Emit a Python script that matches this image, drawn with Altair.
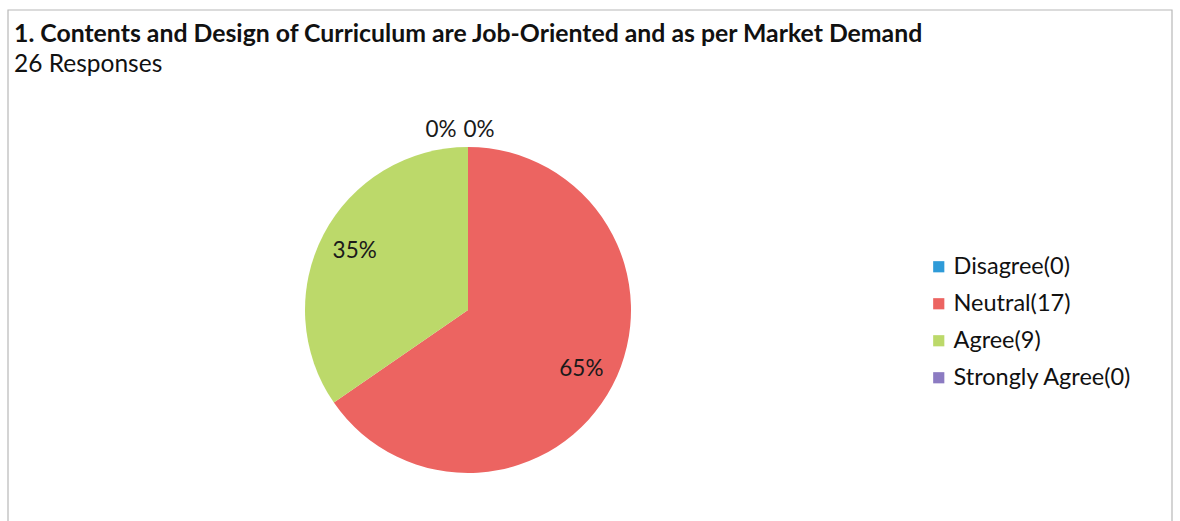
import altair as alt
import pandas as pd

# Survey responses for question 1
categories = ["Disagree", "Neutral", "Agree", "Strongly Agree"]
counts = [0, 17, 9, 0]
colors = ["#2f9bd8", "#ec6461", "#bcd96a", "#8c7bc2"]

title_text = "1. Contents and Design of Curriculum are Job-Oriented and as per Market Demand"
subtitle_text = "26 Responses"

FONT = "Lato"
W, H = 1164, 511

df = pd.DataFrame({
    "category": categories,
    "count": counts,
    "order": list(range(len(categories))),
})
df["legend"] = [f"{c}({n})" for c, n in zip(categories, counts)]
legend_order = list(df["legend"])

cx, cy, r = 460, 300, 163

base = alt.Chart(df).transform_joinaggregate(
    total="sum(count)"
).transform_calculate(
    pct="datum.count / datum.total"
)

theta = alt.Theta("count:Q", stack=True)

pie = base.mark_arc(outerRadius=r, stroke=None).encode(
    theta=theta,
    order=alt.Order("order:Q"),
    x=alt.value(cx),
    y=alt.value(cy),
    color=alt.Color(
        "legend:N",
        scale=alt.Scale(domain=legend_order, range=colors),
        sort=legend_order,
        legend=alt.Legend(
            title=None,
            orient="none",
            legendX=919,
            legendY=245,
            symbolType="square",
            symbolSize=125,
            symbolStrokeWidth=0,
            labelFont=FONT,
            labelFontSize=23.5,
            labelColor="#111111",
            labelOffset=3,
            labelLimit=0,
            rowPadding=12,
        ),
    ),
)

inner_labels = base.transform_filter("datum.count > 0").mark_text(
    radius=128, font=FONT, fontSize=22.5, color="#1a1a1a"
).encode(
    theta=theta,
    order=alt.Order("order:Q"),
    x=alt.value(cx),
    y=alt.value(cy),
    text=alt.Text("pct:Q", format=".0%"),
)

# zero-size slices sit at the top of the pie; their labels are set side by side
zero_first = base.mark_text(
    radius=180, font=FONT, fontSize=22.5, color="#1a1a1a", dx=11
).encode(
    theta=theta,
    order=alt.Order("order:Q"),
    x=alt.value(cx),
    y=alt.value(cy),
    text=alt.Text("pct:Q", format=".0%"),
).transform_filter("datum.category == 'Disagree'")

zero_last = base.mark_text(
    radius=180, font=FONT, fontSize=22.5, color="#1a1a1a", dx=-27
).encode(
    theta=theta,
    order=alt.Order("order:Q"),
    x=alt.value(cx),
    y=alt.value(cy),
    text=alt.Text("pct:Q", format=".0%"),
).transform_filter("datum.category == 'Strongly Agree'")

heading = alt.Chart(pd.DataFrame({"t": [title_text]})).mark_text(
    align="left", baseline="alphabetic", font=FONT, fontSize=24.8,
    fontWeight="bold", color="#111111"
).encode(text="t:N", x=alt.value(6), y=alt.value(32))

sub = alt.Chart(pd.DataFrame({"t": [subtitle_text]})).mark_text(
    align="left", baseline="alphabetic", font=FONT, fontSize=24.5,
    color="#111111"
).encode(text="t:N", x=alt.value(6), y=alt.value(62))

# frame around the panel (bottom edge runs past the page)
frame = alt.Chart(pd.DataFrame({"a": [0]})).mark_rect(
    fill=None, stroke="#b8b8b8", strokeWidth=1.2
).encode(
    x=alt.value(0), x2=alt.value(W), y=alt.value(0), y2=alt.value(H + 30)
)

chart = alt.layer(frame, pie, inner_labels, zero_first, zero_last, heading, sub).properties(
    width=W,
    height=H,
    padding={"left": 8, "top": 10, "right": 8, "bottom": 0},
    autosize=alt.AutoSizeParams(type="none"),
    background="white",
).configure_view(stroke=None)

chart.save("out.html", embed_options={"renderer": "svg", "actions": False})
